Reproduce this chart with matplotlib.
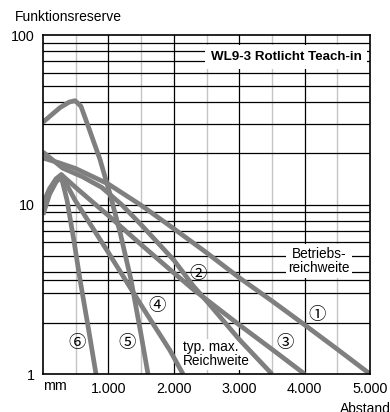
import matplotlib.pyplot as plt
from matplotlib.ticker import NullLocator

plt.rcParams['font.family'] = ['Liberation Sans', 'DejaVu Sans']

# curves: distance in mm / Funktionsreserve
c1_x = [0, 250, 500, 1000, 1500, 2000, 2500, 3000, 3500, 4000, 4500, 5000]
c1_y = [18.8, 17.6, 16.3, 13.2, 9.9, 7.2, 5.2, 3.7, 2.7, 1.95, 1.4, 1.0]

c2_x = [0, 300, 600, 900, 1200, 1500, 2000, 2300, 2500, 3000, 3500]
c2_y = [20.4, 16.4, 14.6, 12.6, 10.0, 7.6, 4.7, 3.3, 2.7, 1.6, 1.0]

c3_x = [0, 100, 200, 280, 500, 1000, 1500, 2000, 2300, 3000, 3500, 4000]
c3_y = [10.2, 12.4, 14.2, 15.0, 12.6, 8.6, 5.8, 3.95, 3.15, 1.95, 1.4, 1.0]

c4_x = [0, 100, 200, 280, 490, 1000, 1500, 1940, 2140]
c4_y = [9.5, 12.0, 14.0, 15.0, 10.6, 5.2, 2.55, 1.38, 1.0]

c5_x = [0, 130, 260, 400, 490, 580, 690, 870, 1020, 1180, 1345, 1500, 1605]
c5_y = [30.6, 33.8, 37.3, 40.2, 41.0, 38.0, 29.0, 18.5, 11.7, 6.8, 3.6, 1.7, 1.0]

c6_x = [0, 100, 200, 280, 367, 470, 566, 700, 810]
c6_y = [8.7, 11.5, 13.6, 14.5, 10.6, 6.2, 3.6, 1.8, 1.0]

curves = [(c1_x, c1_y), (c2_x, c2_y), (c3_x, c3_y),
          (c4_x, c4_y), (c5_x, c5_y), (c6_x, c6_y)]

# circled curve numbers and where they sit
num_labels = ['①', '②', '③', '④', '⑤', '⑥']
num_x = [4186, 2375, 3700, 1739, 1280, 515]
num_y = [2.23, 3.87, 1.52, 2.52, 1.52, 1.52]

# grid
h_lines = [2, 3, 3.6, 4, 5, 6, 7, 8, 9, 10, 20, 30, 40, 50, 60, 70, 80, 90]
v_major = [1000, 2000, 3000, 4000]
v_minor = [500, 1500, 2500, 3500, 4500]

x_ticks = [1000, 2000, 3000, 4000, 5000]
x_ticklabels = ['1.000', '2.000', '3.000', '4.000', '5.000']
y_ticks = [1, 10, 100]
y_ticklabels = ['1', '10', '100']

fig = plt.figure(figsize=(3.9, 4.12), dpi=100)
ax = fig.add_axes([0.1103, 0.0922, 0.8385, 0.8228])
ax.set_yscale('log')
ax.set_xlim(0, 5000)
ax.set_ylim(1, 100)

for v in v_minor:
    ax.axvline(v, color='#c4c4c4', lw=1.0, zorder=1)
for v in v_major:
    ax.axvline(v, color='black', lw=0.9, zorder=1)
for h in h_lines:
    ax.axhline(h, color='black', lw=0.9, zorder=1)

for xs, ys in curves:
    ax.plot(xs, ys, color='#7f7f7f', lw=3.4, solid_joinstyle='round',
            solid_capstyle='butt', zorder=4)

for lab, x, y in zip(num_labels, num_x, num_y):
    ax.text(x, y, lab, ha='center', va='center', fontsize=12.5,
            family=['Noto Sans CJK JP', 'DejaVu Sans'], zorder=5)

# text boxes
ax.text(3716, 74.1, 'WL9-3 Rotlicht Teach-in', ha='center', va='center',
        fontsize=9.6, fontweight='bold', zorder=3,
        bbox=dict(boxstyle='square,pad=0.45', fc='white', ec='none'))
ax.text(4220, 4.64, 'Betriebs-\nreichweite', ha='center', va='center',
        fontsize=9.8, linespacing=1.05, zorder=3,
        bbox=dict(boxstyle='square,pad=0.2', fc='white', ec='none'))
ax.text(2141, 1.31, 'typ. max.\nReichweite', ha='left', va='center',
        fontsize=9.8, linespacing=1.05, zorder=3,
        bbox=dict(boxstyle='square,pad=0.1', fc='white', ec='none'))

ax.set_xticks(x_ticks)
ax.set_xticklabels(x_ticklabels)
ax.set_yticks(y_ticks)
ax.set_yticklabels(y_ticklabels)
ax.yaxis.set_minor_locator(NullLocator())
ax.tick_params(axis='both', length=0, labelsize=10.3)
ax.tick_params(axis='x', pad=6)
ax.tick_params(axis='y', pad=6)
for sp in ax.spines.values():
    sp.set_linewidth(1.2)
    sp.set_zorder(6)

fig.text(43 / 390, 1 - 386 / 412, 'mm', ha='left', va='center', fontsize=10.3)
fig.text(15 / 390, 1 - 17 / 412, 'Funktionsreserve', ha='left', va='center',
         fontsize=10)
fig.text(340 / 390, 1 - 402 / 412, 'Abstand', ha='left', va='top', fontsize=10)

fig.savefig('out.png', dpi=100)
